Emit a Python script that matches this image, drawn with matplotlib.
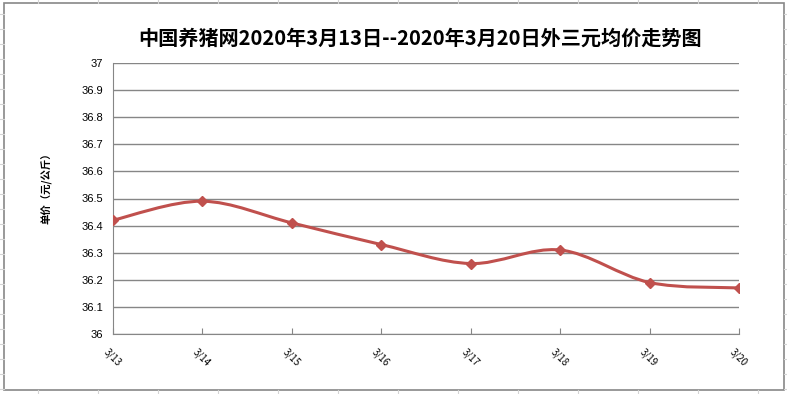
import matplotlib.pyplot as plt
import numpy as np
from matplotlib.path import Path
from matplotlib.patches import PathPatch, Rectangle
from matplotlib.lines import Line2D
import matplotlib.transforms as mtransforms

plt.rcParams['font.family'] = ['Noto Sans CJK SC', 'DejaVu Sans']

# 数据
dates = ["3/13", "3/14", "3/15", "3/16", "3/17", "3/18", "3/19", "3/20"]
prices = [36.42, 36.49, 36.41, 36.33, 36.26, 36.31, 36.19, 36.17]
y_ticks = [36, 36.1, 36.2, 36.3, 36.4, 36.5, 36.6, 36.7, 36.8, 36.9, 37]
y_tick_labels = ["36", "36.1", "36.2", "36.3", "36.4", "36.5", "36.6", "36.7", "36.8", "36.9", "37"]

title = "中国养猪网2020年3月13日--2020年3月20日外三元均价走势图"
y_label = "单价（元/公斤）"

W, H = 787, 394
fig = plt.figure(figsize=(W / 100, H / 100), dpi=100)


def fx(px):
    return px / W


def fy(py):
    return 1 - py / H


# 表格背景的网格线残留
grid_col = "#d4d4d4"
for gx in range(38, W, 60):
    fig.add_artist(Line2D([fx(gx), fx(gx)], [fy(0), fy(3)], color=grid_col, lw=0.8))
    fig.add_artist(Line2D([fx(gx), fx(gx)], [fy(390), fy(394)], color=grid_col, lw=0.8))
for gy in range(14, H, 15):
    fig.add_artist(Line2D([fx(0), fx(4)], [fy(gy), fy(gy)], color=grid_col, lw=0.8))
    fig.add_artist(Line2D([fx(784), fx(787)], [fy(gy), fy(gy)], color=grid_col, lw=0.8))

# 图表外框
fig.add_artist(Rectangle((fx(4), fy(390)), fx(780), (390 - 3) / H,
                         fill=False, edgecolor="#878787", lw=1.2))

ax = fig.add_axes([fx(113), fy(334), fx(739 - 113), (334 - 63) / H])
x = np.arange(len(dates))

# 平滑曲线（Catmull-Rom 转贝塞尔）
pts = np.column_stack([x, prices])
ext = np.vstack([pts[0], pts, pts[-1]])
verts = [tuple(pts[0])]
codes = [Path.MOVETO]
for i in range(len(pts) - 1):
    p0, p1, p2, p3 = ext[i], ext[i + 1], ext[i + 2], ext[i + 3]
    c1 = p1 + (p2 - p0) / 6
    c2 = p2 - (p3 - p1) / 6
    verts += [tuple(c1), tuple(c2), tuple(p2)]
    codes += [Path.CURVE4] * 3
ax.add_patch(PathPatch(Path(verts, codes), facecolor="none",
                       edgecolor="#c0504d", lw=2.2, zorder=3))
ax.plot(x, prices, linestyle="none", marker="D", markersize=5,
        color="#c0504d", zorder=4)

# 坐标轴
ax.set_xlim(0, len(dates) - 1)
ax.set_ylim(36, 37)
ax.set_yticks(y_ticks, y_tick_labels)
ax.yaxis.grid(True, color="#868686", lw=1.0)
ax.set_axisbelow(True)
for s in ["top", "right"]:
    ax.spines[s].set_visible(False)
ax.spines["left"].set_color("#868686")
ax.spines["bottom"].set_color("#868686")
ax.tick_params(axis="y", length=0, pad=7, labelsize=8,
               labelfontfamily="Liberation Sans")
ax.tick_params(axis="x", direction="in", length=4, color="#868686",
               pad=9, labelsize=7)

ax.set_xticks(x, dates, rotation=-45, ha="left", va="top",
              rotation_mode="anchor")
offset = mtransforms.ScaledTranslation(-4 / 100, 0, fig.dpi_scale_trans)
for lab in ax.get_xticklabels():
    lab.set_transform(lab.get_transform() + offset)

# 标题和纵轴标题
fig.text(fx(420), fy(38), title, ha="center", va="center",
         fontsize=14.5, fontweight="bold")
fig.text(fx(47), fy(186), y_label, ha="center", va="center",
         rotation=90, fontsize=7.5, fontweight="bold")

fig.savefig("out.png", dpi=100)
